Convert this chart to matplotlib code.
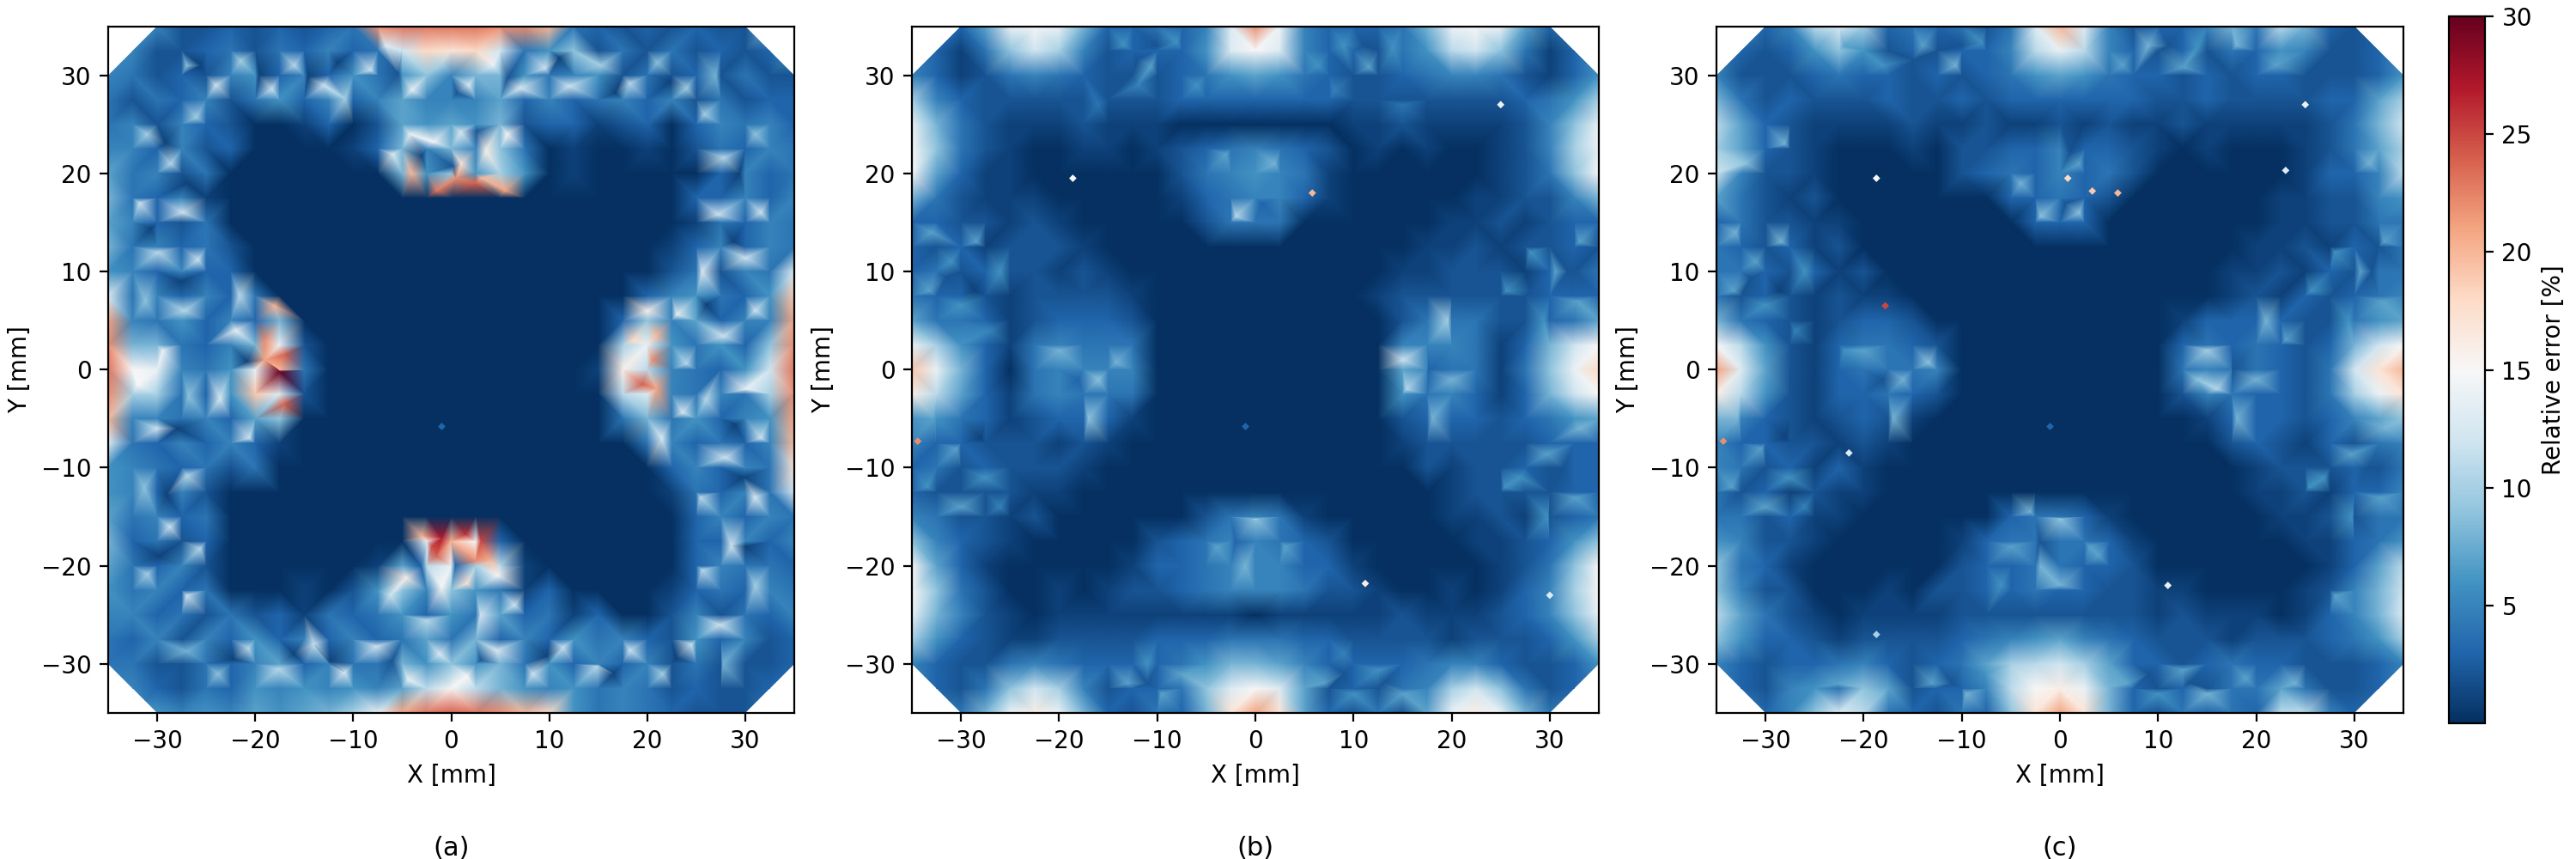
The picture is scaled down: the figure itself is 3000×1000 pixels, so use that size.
import numpy as np
import matplotlib
matplotlib.use('Agg')
import matplotlib.pyplot as plt
from matplotlib.colors import Normalize
from matplotlib.cm import ScalarMappable
from matplotlib.patches import Polygon
from matplotlib.tri import Triangulation

# coarse grid, every 2.5 mm, rows from y=35 down to y=-35
grid_x = [-35 + 2.5 * i for i in range(29)]
grid_y = [35 - 2.5 * i for i in range(29)]

error_a = [
    [5,5,5,2,2,3,2,3,2,3,4,22,23,23, 23, 23,22,22,20,4,3,2,3,2,3,2,2,8,8],
    [6,5,2,2,3,4,2,4,3,5,3,4,12,18, 17, 18,12,4,6,9,2,4,2,4,2,3,2,3,6],
    [5,4,2,3,2,5,6,3,5,3,6,4,6,9, 5, 8,8,6,4,5,6,2,4,2,3,2,4,2,2],
    [4,2,4,3,5,2,4,6,3,5,3,5,7,5, 5, 5,7,3,5,3,4,5,3,5,2,4,2,3,3],
    [4,5,2,5,3,2,0,0,1,3,0,2,7,6, 7, 6,8,2,3,3,1,2,3,0,3,5,4,5,3],
    [5,5,3,5,2,3,0,0,0,0,1,3,8,5, 8, 5,9,4,0,1,0,0,1,0,2,4,3,5,4],
    [7,4,5,2,4,0,0,0,0,0,0,0,8,6, 9, 6,10,6,0,1,0,0,0,0,0,3,5,3,4],
    [8,4,3,5,1,0,0,0,0,0,0,0,0,0, 0, 0,0,0,0,0,0,0,0,0,3,3,5,3,5],
    [7,5,3,2,4,0,0,0,0,0,0,0,0,0, 0, 0,0,0,0,0,0,0,0,0,1,4,3,5,4],
    [8,4,5,3,4,2,0,0,0,0,0,0,0,0, 0, 0,0,0,0,0,0,0,0,1,3,5,3,5,4],
    [6,5,3,5,3,3,0,0,0,0,0,0,0,0, 0, 0,0,0,0,0,0,0,0,2,4,2,5,4,13],
    [13,4,5,3,5,3,4,0,0,0,0,0,0,0, 0, 0,0,0,0,0,0,0,3,5,6,4,3,6,19],
    [21,5,4,6,3,5,3,8,0,0,0,0,0,0, 0, 0,0,0,0,0,0,3,9,5,7,3,5,5,21],
    [22,8,8,4,3,5,8,14,2,0,0,0,0,0, 0, 0,0,0,0,0,0,10,14,6,4,6,3,9,22],
    [23,15,14,5,4,6,14,20,4,0,0,0,0,0, 0, 0,0,0,0,0,1,16,11,5,4,3,6,12,23],
    [22,10,10,4,3,6,10,13,2,0,0,0,0,0, 0, 0,0,0,0,0,0,11,13,5,4,5,4,10,22],
    [20,5,5,4,5,3,7,9,0,0,0,0,0,0, 0, 0,0,0,0,0,0,4,8,4,6,3,5,6,21],
    [13,4,3,5,3,5,3,1,0,0,0,0,0,0, 0, 0,0,0,0,0,0,0,4,5,3,4,3,5,20],
    [6,5,4,3,4,2,4,0,0,0,0,0,0,0, 0, 0,0,0,0,0,0,0,0,3,5,3,5,4,17],
    [6,5,3,5,2,0,0,0,0,0,0,0,0,0, 0, 0,0,0,0,0,0,0,0,1,4,3,5,4,12],
    [7,4,5,3,4,0,0,0,0,0,0,0,0,0, 0, 0,0,0,0,0,0,0,0,0,3,5,3,5,4],
    [8,3,4,2,3,0,0,0,0,0,0,0,0,14, 20, 15,3,0,0,0,0,0,0,0,3,3,5,3,5],
    [7,4,3,5,2,0,0,0,0,0,0,1,7,11, 14, 10,11,1,0,0,0,0,0,0,3,5,4,4,3],
    [6,4,5,3,4,0,0,0,1,0,2,6,9,5, 9, 6,4,1,3,0,0,0,0,1,3,4,3,5,4],
    [5,5,3,4,2,4,2,3,1,4,3,4,6,3, 6, 4,7,3,4,1,3,0,0,2,5,2,4,3,5],
    [4,3,5,2,5,3,6,3,5,3,5,3,4,7, 4, 8,3,5,3,6,4,5,3,2,6,3,5,2,3],
    [4,4,2,2,4,3,5,7,3,5,4,4,8,6, 9, 6,8,4,6,3,5,3,5,2,4,2,2,2,3],
    [6,5,3,2,4,3,6,5,6,5,6,5,7,11, 15, 11,8,6,5,6,4,5,4,2,3,2,2,3,4],
    [5,6,6,5,6,5,7,6,7,8,10,14,21,23, 24, 23,22,20,18,6,4,5,4,3,2,2,2,4,5],
]

error_b = [
    [5,5,3,7,14,15,14,8,3,3,4,3,5,13, 22, 14,5,3,3,3,4,8,14,15,14,7,3,5,5],
    [5,3,1,4,9,12,10,5,2,3,3,3,6,13, 15, 13,5,3,3,2,4,6,11,12,9,4,1,3,5],
    [5,3,1,2,4,5,4,3,2,2,2,3,4,6, 7, 6,4,3,2,2,3,4,5,5,4,2,1,3,6],
    [10,5,3,2,2,2,2,2,2,2,2,3,3,3, 3, 3,3,3,2,2,2,2,2,2,2,3,4,6,10],
    [14,8,4,2,1,1,1,2,1,1,1,0,0,0, 0, 0,0,0,1,1,2,1,1,1,1,2,5,9,14],
    [15,9,4,2,1,0,0,1,1,0,1,2,3,4, 5, 4,3,2,0,1,0,1,0,0,1,2,5,10,14],
    [15,7,3,1,1,0,0,0,0,0,0,2,4,5, 6, 5,4,1,0,0,0,0,0,0,1,2,4,9,15],
    [8,4,2,1,1,1,0,0,0,0,0,1,3,4, 5, 5,3,1,0,0,0,0,0,1,1,2,2,5,8],
    [3,3,2,2,1,2,1,0,0,0,0,0,2,4, 4, 4,0,0,0,0,0,0,1,1,2,1,2,3,3],
    [3,2,3,1,2,2,2,1,0,0,0,0,0,0, 0, 0,0,0,0,0,0,1,1,2,1,2,2,3,2],
    [3,4,2,3,2,2,1,2,1,0,0,0,0,0, 0, 0,0,0,0,0,1,1,2,2,2,1,3,2,4],
    [4,3,3,2,1,2,2,2,2,1,0,0,0,0, 0, 0,0,0,0,1,2,2,2,2,2,2,3,3,3],
    [7,4,4,3,1,2,3,3,3,2,0,0,0,0, 0, 0,0,0,0,0,2,4,4,4,2,2,3,4,7],
    [14,10,6,3,1,4,5,4,4,4,0,0,0,0, 0, 0,0,0,0,0,5,5,5,4,1,3,8,12,15],
    [19,14,8,3,0,4,5,5,5,5,0,0,0,0, 0, 0,0,0,0,0,7,5,4,4,1,4,9,14,18],
    [16,11,7,3,1,4,5,4,4,4,0,0,0,0, 0, 0,0,0,0,0,6,4,5,3,1,3,8,12,15],
    [6,6,4,3,1,2,3,3,3,1,0,0,0,0, 0, 0,0,0,0,0,2,3,3,3,2,3,4,6,7],
    [5,3,3,2,2,2,1,2,1,0,0,0,0,0, 0, 0,0,0,0,0,1,2,2,2,2,2,3,3,3],
    [3,4,2,3,2,2,2,1,0,0,0,0,0,0, 0, 0,0,0,0,0,0,2,1,2,2,3,2,3,3],
    [3,2,2,2,2,1,1,0,0,0,0,0,0,0, 0, 0,0,0,0,0,0,0,1,2,2,2,2,3,3],
    [5,4,2,2,1,2,0,0,0,0,0,0,2,4, 5, 4,1,0,0,0,0,0,1,1,2,1,2,3,4],
    [9,5,3,2,1,0,0,0,0,0,2,3,4,5, 5, 4,3,2,0,0,0,0,0,1,1,2,3,6,9],
    [15,7,3,1,0,0,0,0,0,1,3,3,4,5, 5, 5,3,3,1,0,0,0,0,0,1,2,4,9,15],
    [15,9,4,2,0,0,1,0,1,2,2,3,4,5, 5, 5,4,2,2,1,0,0,1,0,1,3,5,10,15],
    [14,8,5,2,1,0,1,1,1,1,1,1,1,1, 0, 1,1,1,1,1,2,1,1,1,2,3,5,9,14],
    [10,6,3,2,1,1,2,2,2,2,3,3,3,4, 4, 4,3,3,2,2,2,2,1,2,2,2,3,6,10],
    [5,3,2,2,4,5,4,3,3,3,3,4,6,8, 8, 7,5,3,3,3,3,4,5,5,3,2,2,3,6],
    [5,3,2,4,9,12,10,5,2,3,3,4,9,13, 15, 13,7,2,3,2,4,5,10,12,9,4,2,3,5],
    [5,5,4,8,14,16,14,8,3,2,4,3,8,17, 21, 17,7,3,2,4,2,7,14,16,14,8,4,5,5],
]

error_c = [
    [5,5,3,5,11,13,10,3,4,3,4,2,4,13, 20, 13,5,2,3,3,5,8,4,11,8,3,2,4,5],
    [5,3,2,3,6,9,6,2,3,2,3,3,5,11, 14, 11,5,3,2,3,2,4,3,6,5,2,2,3,5],
    [5,2,2,2,3,4,3,3,2,3,2,3,4,6, 7, 6,4,3,3,2,3,2,3,3,2,2,2,3,6],
    [8,4,2,3,2,2,2,3,2,2,3,2,3,3, 3, 3,3,3,2,2,3,2,2,2,2,3,3,7,10],
    [11,7,3,2,1,1,1,1,2,1,1,2,1,1, 2, 1,2,1,1,2,1,1,1,1,1,2,4,8,12],
    [10,7,3,2,1,0,0,0,1,0,2,2,3,3, 5, 3,3,2,1,0,1,0,0,0,1,2,4,7,10],
    [12,5,2,2,1,0,0,0,0,0,2,3,4,3, 5, 3,4,2,0,0,0,0,0,0,1,3,3,5,11],
    [7,4,2,1,2,0,0,0,0,0,0,0,3,3, 4, 3,2,0,0,0,0,0,0,1,1,2,2,5,6],
    [3,4,2,2,1,1,0,0,0,0,0,0,0,3, 3, 3,0,0,0,0,0,0,0,1,1,2,2,4,4],
    [4,3,2,3,1,2,0,0,0,0,0,0,0,0, 0, 0,0,0,0,0,0,0,1,1,2,1,3,2,4],
    [4,4,3,2,3,1,2,0,0,0,0,0,0,0, 0, 0,0,0,0,0,0,1,1,2,1,3,2,4,4],
    [4,2,3,2,1,2,1,1,0,0,0,0,0,0, 0, 0,0,0,0,0,0,1,2,1,3,2,3,4,5],
    [8,4,3,2,1,2,3,3,2,0,0,0,0,0, 0, 0,0,0,0,1,3,3,3,3,2,2,4,6,7],
    [15,11,6,2,1,3,4,4,3,2,0,0,0,0, 0, 0,0,0,0,3,4,3,4,3,2,3,8,12,15],
    [21,13,7,2,1,3,4,4,4,5,0,0,0,0, 0, 0,0,0,0,4,5,4,4,3,2,4,12,17,20],
    [16,11,6,2,1,3,3,4,3,2,0,0,0,0, 0, 0,0,0,0,2,5,4,3,3,2,4,10,14,17],
    [8,5,3,2,1,2,3,2,1,0,0,0,0,0, 0, 0,0,0,0,0,1,3,3,3,2,3,5,7,9],
    [5,3,3,2,2,1,2,1,0,0,0,0,0,0, 0, 0,0,0,0,0,0,2,3,2,1,3,2,4,5],
    [5,4,2,3,1,3,1,0,0,0,0,0,0,0, 0, 0,0,0,0,0,0,0,1,2,2,2,3,2,4],
    [4,2,3,1,2,1,1,0,0,0,0,0,0,0, 0, 0,0,0,0,0,0,0,1,1,2,1,3,3,5],
    [4,4,2,3,1,1,0,0,0,0,0,0,3,4, 4, 3,1,0,0,0,0,0,0,1,1,2,2,4,4],
    [6,5,2,2,1,0,0,0,0,0,1,3,4,4, 4, 4,3,1,0,0,0,0,0,0,1,1,3,4,6],
    [9,4,3,1,0,0,0,0,0,0,2,3,3,4, 4, 3,3,2,0,0,0,0,0,0,0,1,3,7,11],
    [9,5,2,2,0,0,0,1,0,2,2,3,3,4, 3, 3,2,2,1,1,0,0,0,0,1,2,5,8,12],
    [11,7,4,2,1,0,1,1,1,1,2,2,2,2, 2, 2,2,2,1,2,1,1,1,0,1,3,5,8,13],
    [9,6,3,3,2,1,2,2,2,2,3,4,5,6, 7, 5,4,3,2,2,2,1,2,2,2,3,4,6,10],
    [5,3,2,3,3,4,5,3,2,3,4,7,10,11, 12, 10,7,3,3,2,3,4,3,3,2,2,2,3,5],
    [5,3,2,5,6,4,9,7,2,3,3,5,11,15, 16, 14,8,3,2,3,2,4,4,7,4,2,2,3,5],
    [5,5,3,5,9,13,11,4,3,2,4,3,9,17, 21, 17,8,3,2,4,3,4,3,11,11,5,3,4,5],
]

# extra measuring points between the grid nodes, these carry the speckle
speck_x_a = [-27, -24, -21.5, -18.3, -16, -13, -10.8, -8.2, -6.7, -4, -1, 1.8, 4.3, 7, 9.6, 12, 15.3, 18.2, 21, 24, 27,
             -25.6, -19.6, -14.6, -11.6, -5.4, 0.6, 5.7, 11, 16.8, 22.4,
             -27, -23.8, -20.7, -17.6, -14, -10.9, -7.6, -4.4, -1.2, 1.6, 4.6, 8.3, 11.4, 14.9, 18.2, 21.6, 24.5, 27.7,
             -22.2, -16, -12.4, -6, 3, 9.8, 16.5, 23,
             -31, -28.6, -26, -31.8, -27.4, -29.9, -25.8, -31.2, -27.2, -29.4, -32, -26.8, -30, -27, -31.3, -28.7, -25.6, -31, -27,
             -29.2, -27, -30.6, -27.6, -28, -29, -29.8,
             31, 27.8, 25.8, 31.6, 27.2, 30, 25.6, 31, 27.8, 30, 26, 31.6, 28, 25.4, 31, 28.6, 25.6, 31, 27.4,
             29.4, 28.8, 26, 29, 29.8, 30,
             -22, -23.6, -20.6, -21.6, -20.8, 23.6, 23, 20, 24, 21.5,
             -4.2, -1.8, 1, 3.5, -6, 5.7, -4.6, -1, 1.6, 4.8, -6.2, 6.5, -2.5, 3,
             -3, 0.2, 2.6, -3, 0.4,
             -17.5, -19, -17, -19, -20, -17, -18, 21, 20.5, 19.5, 21, 18.5,
             0.5, 2.5, 3, -1.5, -4, 5.5, 1, -1, 0, 1.5, 3, -2, -3, -1.5, 2.5, 4]
speck_y_a = [31, 29, 31.5, 28.6, 31, 29, 27.6, 30.5, 33, 28.5, 31, 29, 31, 28.7, 30.7, 28.9, 31, 29.2, 31.3, 28.7, 30,
             31, 30, 29.8, 31.3, 30.2, 28.2, 29.6, 31.8, 28.2, 29.4,
             -28.7, -31, -28.4, -30.5, -28, -30.8, -28.2, -31.6, -29, -31.2, -28.6, -31, -28.3, -30.2, -28.6, -31, -28, -30,
             -29.5, -29, -29.8, -29.6, -29.6, -29.2, -31, -29.4,
             24, 21, 25.7, 17, 16, 12, 11.2, 7, 6, 2, -1.6, -2.7, -6, -10.8, -12, -16, -18.2, -20.8, -23,
             23, 19, 14.4, 9, -6, -12.8, -19,
             24, 21.6, 26, 16, 15.8, 11.4, 10, 6, 3.4, -2, -3, -7, -9, -13, -13, -18, -20.4, -22, -26,
             20, 13, 6.6, -5.6, -11, -18,
             4, -3, -7, 7.6, 0.8, -4.4, 5.6, 6, 0.6, -7,
             24, 23.2, 24.2, 22.3, 22, 24, -21.2, -22.2, -21.8, -21, -23, -24, -25.5, -25,
             21.8, 20.7, 24.3, -20.2, -20,
             -0.2, 1, -3.5, 3, -2.5, 1.5, 6.5, 3.5, 1, -1.5, -2, 3,
             19.5, 19, 19.5, 18.2, 20, 18.2, 21, -17.2, -17.5, -16.8, -17.5, -18, -17, -19, -19.5, -19.5]
speck_v_a = [9, 12, 10, 12, 11, 12, 10, 12, 13, 14, 10, 13, 14, 13, 12, 12, 10, 11, 9, 10, 8,
             1, 1, 1, 1, 2, 2, 2, 1, 1, 1,
             8, 9, 11, 11, 12, 13, 12, 14, 13, 15, 13, 12, 12, 11, 12, 10, 12, 8,
             1, 1, 1, 2, 2, 1, 1, 1,
             10, 11, 10, 12, 12, 11, 12, 9, 11, 14, 15, 9, 12, 11, 9, 12, 11, 10, 12,
             1, 1, 1, 1, 1, 1, 1,
             9, 11, 10, 12, 12, 12, 13, 12, 12, 14, 11, 12, 12, 11, 13, 12, 11, 10, 12,
             1, 1, 1, 1, 1, 1,
             14, 13, 12, 11, 1, 13, 14, 16, 11, 13,
             14, 15, 13, 16, 13, 15, 16, 15, 17, 15, 12, 12, 11, 12,
             1, 2, 2, 3, 3,
             30, 21, 24, 22, 19, 24, 20, 20, 22, 24, 21, 18,
             22, 24, 20, 23, 20, 21, 17, 27, 26, 26, 25, 25, 20, 24, 22, 20]

speck_x_b = [-33, -31, -28.4, -26, -33.2, -30, -27, -32.8, -30.4, -27.6, -33.4, -30, -26,
             33, 30.6, 28, 25.6, 32.8, 29.4, 33, 29.7, 27, 32.6, 29.8, 25.4,
             -13.4, -10.6, -8, -12, -6, 6.4, 9, 11.6, 14, 8, -16, 15,
             -13, -9.6, -11, -7.6, 7, 10, 12.6, 15, 9,
             -31.6, -28.6, -31, -28, 31.8, 28, 31.4, -10, -12, 11, -11, 9, 13,
             -20, -16, -14.2, -17, 19.6, 15, 15.4, 18, 20, -2, 2, -3, 0, -1, 3, -4,
             -18, 17.6, 0.6, -2]
speck_y_b = [14, 11, 13, 10, 8, 6.6, 4, -5, -8, -11, -12, -14, -14,
             13, 10, 12, 8, 7, 5, -6, -8.6, -11, -13, -15, -12,
             33, 31, 33.4, 29, 29, 31, 33, 30.8, 32.8, 28.4, 27, 27,
             -32, -33, -30, -31, -32, -33, -30.6, -33, -29,
             9.4, 8, -11, -7, 10, 8, -10, 33, 31.6, 33, -32, -31, -32,
             2, -1, 0.7, -5, 5, 1, -2, -5, -1, 15.6, 21, 22, -15.2, -20, -18, -18,
             -1, 0, 17, -17.6]
speck_v_b = [7, 6, 7, 6, 7, 6, 5, 7, 7, 6, 6, 7, 5,
             7, 7, 6, 6, 7, 6, 8, 7, 6, 7, 6, 6,
             6, 7, 6, 5, 6, 6, 6, 7, 6, 5, 4, 4,
             7, 7, 6, 7, 7, 6, 6, 7, 5,
             2, 1, 2, 1, 2, 2, 2, 2, 2, 2, 2, 2, 2,
             8, 9, 8, 9, 10, 12, 11, 8, 8, 11, 8, 7, 9, 8, 7, 7,
             3, 3, 3, 3]

speck_x_c = [-33, -31, -28.4, -26, -33.2, -30, -27, -32.8, -30.4, -27.6, -33.4, -30, -26, -32, -28,
             33, 30.6, 28, 25.6, 32.8, 29.4, 33, 29.7, 27, 32.6, 29.8, 25.4, 31.5, 28,
             -22, -18, -14, -10.6, -8, 6.4, 9, 12.6, 14, 18, 22,
             -22.6, -18, -13, -9.6, -7.6, 7, 10, 12.6, 15, 19, 24,
             -31.6, -28.6, -31, -28, 31.8, 28, 31.4, -10, -15, 11, -11, 9, 13,
             -20, -16, -13.4, -17, -22, 21, 15, 16, 18, 20, 14, 23,
             -2, 2, -4, 0, -2, 3, -5, 0, -3, 4, -6, 2,
             -18, 17.6, 0.6, -2, 1]
speck_y_c = [14, 11, 13, 10, 8, 6.6, 4, -5, -8, -11, -12, -14, -14, 21, 23,
             13, 10, 12, 8, 7, 5, -6, -8.6, -11, -13, -15, -12, 21, -23,
             33, 31, 33, 31, 33.4, 31, 33, 30.8, 32.8, 33, 31,
             -32, -33, -32, -33, -31, -32, -33, -30.6, -33, -31.5, -32,
             9.4, 8, -11, -7, 10, 8, -10, 33, 31.6, 33, -32, -31, -32,
             2, -1, 0.7, -5, 2, 5, 2, -2, -5, -1, -1, 3,
             15.6, 21, 19, -15.2, -20, -18, -18, -22, -14.5, -19, -22, 16,
             -1, 0, 17, -17.6, 22]
speck_v_c = [8, 7, 8, 6, 7, 6, 5, 8, 7, 6, 7, 7, 5, 9, 8,
             7, 7, 6, 6, 7, 6, 8, 7, 6, 7, 6, 6, 8, 7,
             7, 6, 7, 8, 6, 7, 8, 7, 6, 8, 7,
             7, 8, 7, 8, 6, 7, 6, 7, 8, 7, 8,
             2, 1, 2, 1, 2, 2, 2, 2, 2, 2, 2, 2, 2,
             7, 8, 9, 8, 6, 8, 10, 11, 8, 8, 9, 7,
             9, 7, 8, 9, 8, 7, 7, 8, 8, 7, 6, 9,
             2, 2, 2, 2, 2]

# single small hot dots
dot_x_a = [-1]
dot_y_a = [-5.8]
dot_v_a = [3]
dot_x_b = [-18.6, 5.8, -34.4, 25, 11.2, -1, 30]
dot_y_b = [19.5, 18, -7.3, 27, -21.8, -5.8, -23]
dot_v_b = [15, 20, 22, 14, 16, 3, 13]
dot_x_c = [-18.7, -17.8, 5.9, 3.3, 0.8, 23, -34.3, -21.5, 11, 25, -1, -18.7]
dot_y_c = [19.5, 6.5, 18, 18.2, 19.5, 20.3, -7.3, -8.5, -22, 27, -5.8, -27]
dot_v_c = [15, 25, 20, 19, 18, 13, 22, 13, 14, 14, 3, 10]

panel_labels = ['(a)', '(b)', '(c)']
axis_ticks = [-30, -20, -10, 0, 10, 20, 30]
cbar_ticks = [5, 10, 15, 20, 25, 30]


def px_axes(fig, left, right, top, bottom):
    # pixel box in the 3000x1000 picture to a figure-fraction axes
    return fig.add_axes([left / 3000, 1 - bottom / 1000, (right - left) / 3000, (bottom - top) / 1000])


def draw_panel(ax, values, speck, dots, norm):
    xx, yy = np.meshgrid(grid_x, grid_y)
    px = np.concatenate([xx.ravel(), speck[0]])
    py = np.concatenate([yy.ravel(), speck[1]])
    pv = np.concatenate([np.array(values, dtype=float).ravel(), speck[2]])
    tri = Triangulation(px, py)
    mesh = ax.tripcolor(tri, pv, shading='gouraud', cmap='RdBu_r', norm=norm)
    # the measured area is a square with cut corners
    outline = Polygon([(-30, 35), (30, 35), (35, 30), (35, -30), (30, -35), (-30, -35), (-35, -30), (-35, 30)],
                      transform=ax.transData)
    mesh.set_clip_path(outline)
    ax.scatter(dots[0], dots[1], c=dots[2], s=5, marker='D', linewidths=0, cmap='RdBu_r', norm=norm)
    ax.set_xlim(-35, 35)
    ax.set_ylim(-35, 35)
    ax.set_xticks(axis_ticks)
    ax.set_yticks(axis_ticks)
    ax.set_xlabel('X [mm]')
    ax.set_ylabel('Y [mm]')


plt.rcParams['font.size'] = 10
fig = plt.figure(figsize=(15, 5), dpi=200)
norm = Normalize(vmin=0, vmax=30)

boxes = [(126, 925), (1062, 1862), (1999, 2799)]
panels = [
    (error_a, (speck_x_a, speck_y_a, speck_v_a), (dot_x_a, dot_y_a, dot_v_a)),
    (error_b, (speck_x_b, speck_y_b, speck_v_b), (dot_x_b, dot_y_b, dot_v_b)),
    (error_c, (speck_x_c, speck_y_c, speck_v_c), (dot_x_c, dot_y_c, dot_v_c)),
]
for (left, right), panel, label in zip(boxes, panels, panel_labels):
    ax = px_axes(fig, left, right, 30.5, 830)
    draw_panel(ax, panel[0], panel[1], panel[2], norm)
    fig.text((left + right) / 2 / 3000, 1 - 988 / 1000, label, fontsize=11, ha='center', va='center')

cax = px_axes(fig, 2851.5, 2894, 19, 842)
cbar = fig.colorbar(ScalarMappable(norm=norm, cmap='RdBu_r'), cax=cax)
cbar.set_ticks(cbar_ticks)
cbar.set_label('Relative error [%]')

fig.savefig('out.png', dpi=200)
